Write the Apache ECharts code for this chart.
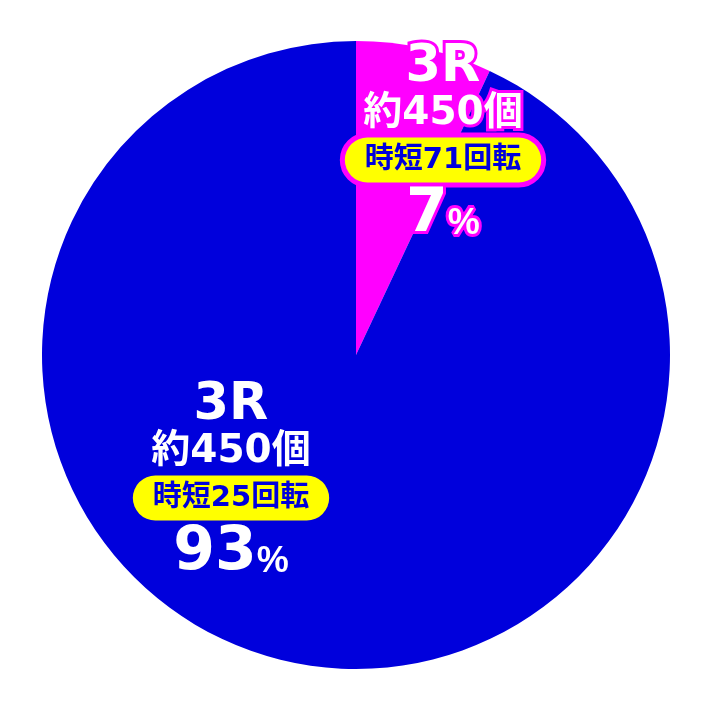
<!DOCTYPE html>
<html>
	<head>
		<meta charset="utf-8">
		<title>3R 時短 振り分け</title>
		<script src="https://cdn.jsdelivr.net/npm/echarts@6/dist/echarts.min.js"></script>
		<style>
			html, body { margin: 0; padding: 0; background: #fff; }
			#pieChart { width: 712px; height: 710px; }
		</style>
	</head>
	<body>
		<div id="pieChart"></div>
		<script>
			// 振り分けデータ
			var rounds = ['3R', '3R'];
			var payouts = ['約450個', '約450個'];
			var jitan = ['時短71回転', '時短25回転'];
			var percents = [7, 93];
			var colors = ['#ff00ff', '#0000dc'];
			// ラベルの中心位置 (px)
			var labelPos = [[443, 145], [231, 483]];

			var font = '"DejaVu Sans", "Noto Sans CJK JP", sans-serif';
			var fontPc = '"Liberation Sans", sans-serif';

			function richFor(c) {
				return {
					r: { fontSize: 51, fontWeight: 'bold', fontFamily: font, color: '#fff', textBorderColor: c, textBorderWidth: 6, lineHeight: 46 },
					n: { fontSize: 39, fontWeight: 'bold', fontFamily: font, color: '#fff', textBorderColor: c, textBorderWidth: 6, lineHeight: 46 },
					p: { fontSize: 29, fontWeight: 'bold', fontFamily: font, color: '#0000dc', backgroundColor: '#ffff00', borderColor: c, borderWidth: 5, borderRadius: 24, padding: [8, 20, 8, 20], lineHeight: 46 },
					v: { fontSize: 60, fontWeight: 'bold', fontFamily: font, color: '#fff', textBorderColor: c, textBorderWidth: 6, lineHeight: 62, verticalAlign: 'bottom' },
					pc: { fontSize: 36, fontWeight: 'bold', fontFamily: fontPc, color: '#fff', textBorderColor: c, textBorderWidth: 6, lineHeight: 62, verticalAlign: 'bottom', padding: [0, 0, 3, 0] }
				};
			}

			var data = percents.map(function(v, i) {
				return {
					value: v,
					name: jitan[i],
					itemStyle: { color: colors[i] },
					label: {
						show: true,
						formatter: '{r|' + rounds[i] + '}\n{n|' + payouts[i] + '}\n{p|' + jitan[i] + '}\n{v|' + v + '}{pc|%}',
						align: 'center',
						rich: richFor(colors[i])
					}
				};
			});

			var chart = echarts.init(document.getElementById('pieChart'));
			chart.setOption({
				animation: false,
				series: [{
					type: 'pie',
					center: ['50%', '50%'],
					radius: 314,
					startAngle: 90,
					clockwise: true,
					silent: true,
					itemStyle: { borderWidth: 0 },
					label: { position: 'inside' },
					labelLine: { show: false },
					labelLayout: function(params) {
						var p = labelPos[params.dataIndex];
						return { x: p[0], y: p[1], align: 'center', verticalAlign: 'middle' };
					},
					emphasis: { disabled: true },
					data: data
				}]
			});
		</script>
	</body>
</html>
